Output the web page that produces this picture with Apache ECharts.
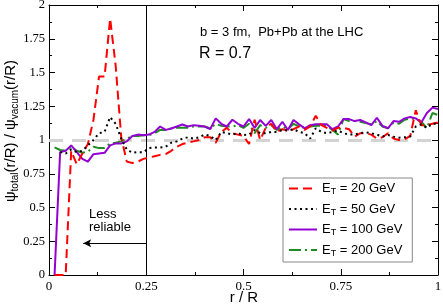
<!DOCTYPE html>
<html><head><meta charset="utf-8">
<script src="https://cdn.jsdelivr.net/npm/echarts@6/dist/echarts.min.js"></script>
<style>html,body{margin:0;padding:0;background:#fff}#c{width:443px;height:305px}</style>
</head><body><div id="c"></div>
<script>
// r/R sample points
const r = [0.0143,0.0286,0.0429,0.0571,0.0714,0.0857,0.1,0.1143,0.1286,0.1429,
  0.1571,0.1714,0.1857,0.2,0.2143,0.2286,0.2429,0.2571,0.2714,0.2857,
  0.3,0.3143,0.3286,0.3429,0.3571,0.3714,0.3857,0.4,0.4143,0.4286,
  0.4429,0.4571,0.4714,0.4857,0.5,0.5143,0.5286,0.5429,0.5571,0.5714,
  0.5857,0.6,0.6143,0.6286,0.6429,0.6571,0.6714,0.6857,0.7,0.7143,
  0.7286,0.7429,0.7571,0.7714,0.7857,0.8,0.8143,0.8286,0.8429,0.8571,
  0.8714,0.8857,0.9,0.9143,0.9286,0.9429,0.9571,0.9714,0.9857,1.0];
// psi_total / psi_vacuum for each jet energy
const et20 = [0,0,0,0.92,0.82,0.90,0.97,1.15,1.47,1.47,
  1.90,1.55,1.02,0.84,0.83,0.84,0.86,0.87,0.88,0.89,
  0.895,0.92,0.95,0.97,0.98,0.99,1.00,1.02,1.02,0.98,
  1.06,1.09,1.05,1.04,1.03,0.97,1.15,1.00,1.09,1.12,
  1.06,1.08,1.07,1.08,1.10,1.075,1.10,1.18,1.11,1.09,
  1.07,1.09,1.09,1.08,1.025,1.05,1.05,1.04,1.01,1.02,
  1.05,1.01,1.00,1.005,1.03,1.22,1.11,1.11,1.12,1.13];
const et50 = [null,0.91,0.90,0.93,0.91,0.92,0.96,1.00,1.05,1.06,
  1.17,1.12,1.01,0.93,0.905,0.91,0.91,0.94,0.945,0.945,
  0.95,0.98,0.99,1.01,1.02,1.01,1.02,1.04,1.03,1.00,
  1.06,1.05,1.04,1.05,1.037,1.04,1.074,1.05,1.05,1.06,
  1.06,1.074,1.07,1.08,1.06,1.05,1.01,1.087,1.06,1.05,
  1.06,1.07,1.05,1.04,1.04,1.05,1.057,1.05,1.04,1.025,
  1.037,1.025,1.017,1.02,1.025,1.10,1.116,1.09,1.12,1.12];
const et100 = [0,0.91,0.92,0.96,0.91,0.86,0.84,0.895,0.90,0.905,
  0.96,0.975,0.975,0.99,1.03,1.04,1.035,1.04,1.06,1.10,
  1.075,1.085,1.10,1.115,1.10,1.11,1.105,1.10,1.08,1.16,
  1.12,1.10,1.15,1.12,1.10,1.155,1.09,1.148,1.105,1.148,
  1.08,1.135,1.074,1.148,1.116,1.087,1.11,1.116,1.116,1.116,
  1.08,1.10,1.155,1.155,1.14,1.148,1.13,1.11,1.165,1.105,
  1.087,1.14,1.135,1.16,1.17,1.16,1.13,1.20,1.24,1.23];
const et200 = [0.946,0.926,0.92,0.95,0.92,0.906,0.913,0.95,0.94,0.94,
  0.975,0.98,0.99,1.01,1.03,1.03,1.035,1.035,1.05,1.075,
  1.075,1.085,1.09,1.09,1.09,1.10,1.10,1.10,1.087,1.12,
  1.105,1.10,1.10,1.11,1.09,1.12,1.05,1.11,1.09,1.11,
  1.074,1.10,1.08,1.12,1.10,1.09,1.10,1.105,1.105,1.105,
  1.074,1.04,1.155,1.14,1.14,1.135,1.125,1.116,1.14,1.10,
  1.087,1.13,1.12,1.15,1.16,1.155,1.135,1.087,1.20,1.185];
const energies = [20, 50, 100, 200];
const reliableLimit = 0.25;
const unity = 1;
const arrowFrom = [0.25, 0.235];
const arrowTo = [0.088, 0.235];

const chart = echarts.init(document.getElementById('c'), null, {renderer: 'canvas'});
const pair = ys => r.map((x, i) => [x, ys[i]]);
const serif = 'Liberation Serif';
const sans = 'Liberation Sans';
const black = '#000';

function axisBase(extra) {
  return Object.assign({
    type: 'value',
    axisLine: {show: true, onZero: false, lineStyle: {color: black, width: 1}},
    axisTick: {show: true, inside: true, length: 6, lineStyle: {color: black}},
    minorTick: {show: true, splitNumber: 2, length: 3, lineStyle: {color: black}},
    splitLine: {show: false},
    minorSplitLine: {show: false}
  }, extra);
}

const styles = [
  {color: '#ff0000', type: [9, 5]},
  {color: '#000000', type: [2, 3.5]},
  {color: '#9400d3', type: 'solid'},
  {color: '#1e8c1e', type: [12, 4, 2, 4]}
];
const sets = [et20, et50, et100, et200];

const curveSeries = energies.map((e, i) => ({
  name: 'ET' + e,
  type: 'line',
  data: pair(sets[i]),
  showSymbol: false,
  symbol: 'none',
  color: styles[i].color,
  lineStyle: {color: styles[i].color, width: 2, type: styles[i].type, cap: 'butt'},
  z: 5 + (i === 0 ? 3 : i === 2 ? 2 : i === 3 ? 1 : 4),
  animation: false
}));

const option = {
  animation: false,
  backgroundColor: '#fff',
  grid: {left: 49, right: 5, top: 5, bottom: 30, containLabel: false, outerBoundsMode: 'none'},
  xAxis: [
    axisBase({min: 0, max: 1, interval: 0.25, position: 'bottom',
      axisLabel: {fontFamily: serif, fontSize: 13, color: black, margin: 5}}),
    axisBase({min: 0, max: 1, interval: 0.25, position: 'top', axisLabel: {show: false}})
  ],
  yAxis: [
    axisBase({min: 0, max: 2, interval: 0.25, position: 'left',
      axisLabel: {fontFamily: serif, fontSize: 12.5, color: black, margin: 4}}),
    axisBase({min: 0, max: 2, interval: 0.25, position: 'right', axisLabel: {show: false}})
  ],
  legend: {
    orient: 'vertical', left: 283, top: 178,
    itemWidth: 28, itemHeight: 14, itemGap: 6,
    padding: [4, 10, 4, 5],
    backgroundColor: '#fff', borderColor: '#888', borderWidth: 1, borderRadius: 0,
    selectedMode: false,
    itemStyle: {opacity: 0},
    data: energies.map(e => 'ET' + e),
    formatter: name => 'E{s|T} = ' + name.slice(2) + ' GeV',
    textStyle: {fontFamily: sans, fontSize: 13, color: black,
      rich: {s: {fontFamily: sans, fontSize: 9, padding: [7, 0, 0, 0]}}}
  },
  graphic: [
    {type: 'text', x: 11, y: 131, rotation: Math.PI / 2,
      style: {text: 'ψ{s|total}(r/R) / ψ{s|vacum}(r/R)', fontFamily: sans, fontSize: 15, fill: black,
        align: 'center', verticalAlign: 'middle',
        rich: {s: {font: '10px "Liberation Sans"', fontFamily: sans, fontSize: 10, padding: [8, 0, 0, 0], fill: black}}}},
    {type: 'text', x: 244, y: 298,
      style: {text: 'r / R', fontFamily: sans, fontSize: 15, fill: black, align: 'center', verticalAlign: 'middle'}},
    {type: 'text', left: 200, top: 26, style: {text: 'b = 3 fm,  Pb+Pb at the LHC', font: '13px "Liberation Sans"', fill: black}},
    {type: 'text', left: 199, top: 46, style: {text: 'R = 0.7', font: '16px "Liberation Sans"', fill: black}},
    {type: 'text', left: 89, top: 208, style: {text: 'Less\nreliable', font: '13px "Liberation Sans"', lineHeight: 13, fill: black}}
  ],
  series: [
    {type: 'line', data: [], z: 1, silent: true,
      markLine: {silent: true, symbol: 'none', label: {show: false}, animation: false,
        lineStyle: {color: '#d3d3d3', width: 3, type: [14, 9]},
        data: [{yAxis: unity}]}},
    {type: 'line', data: [], z: 3, silent: true,
      markLine: {silent: true, symbol: 'none', label: {show: false}, animation: false,
        lineStyle: {color: black, width: 1, type: 'solid'},
        data: [{xAxis: reliableLimit}]}},
    {type: 'line', data: [], z: 3, silent: true,
      markLine: {silent: true, symbol: ['none', 'arrow'], symbolSize: [6, 8], label: {show: false}, animation: false,
        lineStyle: {color: black, width: 1, type: 'solid'},
        data: [[{coord: arrowFrom}, {coord: arrowTo}]]}},
    ...curveSeries
  ]
};
chart.setOption(option);
</script>
</body></html>
